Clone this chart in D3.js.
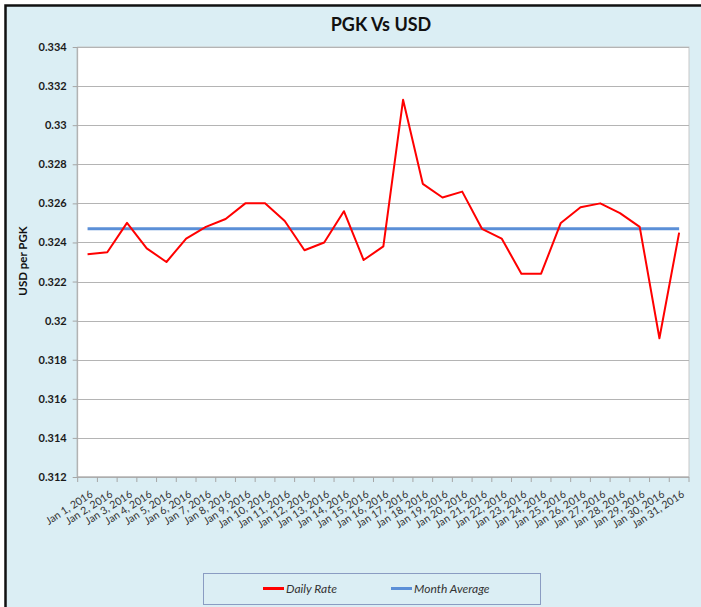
<!DOCTYPE html>
<html><head><meta charset="utf-8">
<script src="https://cdn.jsdelivr.net/npm/d3@7"></script>
<style>
html,body{margin:0;padding:0;background:#fff;}
svg{display:block;font-family:Lato,"Open Sans",sans-serif;}
</style></head>
<body>
<svg id="chart" width="701" height="607"></svg>
<script>
const dates = ["Jan 1, 2016","Jan 2, 2016","Jan 3, 2016","Jan 4, 2016","Jan 5, 2016","Jan 6, 2016","Jan 7, 2016","Jan 8, 2016","Jan 9, 2016","Jan 10, 2016","Jan 11, 2016","Jan 12, 2016","Jan 13, 2016","Jan 14, 2016","Jan 15, 2016","Jan 16, 2016","Jan 17, 2016","Jan 18, 2016","Jan 19, 2016","Jan 20, 2016","Jan 21, 2016","Jan 22, 2016","Jan 23, 2016","Jan 24, 2016","Jan 25, 2016","Jan 26, 2016","Jan 27, 2016","Jan 28, 2016","Jan 29, 2016","Jan 30, 2016","Jan 31, 2016"];
const dailyRate = [0.3234,0.3235,0.3250,0.3237,0.3230,0.3242,0.3248,0.3252,0.3260,0.3260,0.3251,0.3236,0.3240,0.3256,0.3231,0.3238,0.3313,0.3270,0.3263,0.3266,0.3247,0.3242,0.3224,0.3224,0.3250,0.3258,0.3260,0.3255,0.3248,0.3191,0.3245];
const monthAverage = [0.3247,0.3247,0.3247,0.3247,0.3247,0.3247,0.3247,0.3247,0.3247,0.3247,0.3247,0.3247,0.3247,0.3247,0.3247,0.3247,0.3247,0.3247,0.3247,0.3247,0.3247,0.3247,0.3247,0.3247,0.3247,0.3247,0.3247,0.3247,0.3247,0.3247,0.3247];
const yTicks = [0.312,0.314,0.316,0.318,0.32,0.322,0.324,0.326,0.328,0.33,0.332,0.334];
const yTickLabels = ["0.312","0.314","0.316","0.318","0.32","0.322","0.324","0.326","0.328","0.33","0.332","0.334"];
const seriesNames = ["Daily Rate","Month Average"];
const seriesColors = ["#ff0000","#5b8fd7"];
const title = "PGK Vs USD";
const yTitle = "USD per PGK";

const svg = d3.select("#chart");
const L = 77.7, R = 689, T = 47, B = 477;

// chart background + border
svg.append("rect").attr("x",5.5).attr("y",5.5).attr("width",720).attr("height",630)
  .attr("fill","#dbeef4").attr("stroke","#111").attr("stroke-width",2.5);

const x = d3.scaleBand().domain(dates).range([L,R]);
const y = d3.scaleLinear().domain([0.312,0.334]).range([B,T]);
const cx = d => x(d) + x.bandwidth()/2;

// plot area
svg.append("rect").attr("x",L).attr("y",T).attr("width",R-L).attr("height",B-T)
  .attr("fill","#fff").attr("stroke","#c8c8c8").attr("stroke-width",1);

// gridlines
svg.append("g").attr("transform",`translate(${L},0)`)
  .call(d3.axisLeft(y).tickValues(yTicks).tickSize(-(R-L)).tickFormat(""))
  .call(g=>g.select(".domain").remove())
  .call(g=>g.selectAll("line").attr("stroke","#b4b4b4").attr("stroke-width",1).attr("shape-rendering","crispEdges"));

// y axis
const ya = svg.append("g").attr("transform",`translate(${L},0)`)
  .call(d3.axisLeft(y).tickValues(yTicks).tickSize(5).tickPadding(6).tickFormat((d,i)=>yTickLabels[i]));
ya.select(".domain").attr("stroke","#a6a6a6").attr("d",`M-0.5,${T}V${B}`);
ya.selectAll("line").attr("stroke","#a6a6a6");
ya.selectAll("text").attr("font-family","Lato,sans-serif").attr("font-size",11).attr("font-weight","bold").attr("fill","#1a1a1a");

// x axis
const xa = svg.append("g");
xa.append("line").attr("x1",L).attr("x2",R).attr("y1",B).attr("y2",B).attr("stroke","#a6a6a6");
xa.selectAll("line.tk").data(dates.concat(["__end"])).join("line").attr("class","tk")
  .attr("x1",d=> d==="__end"? R : x(d)).attr("x2",d=> d==="__end"? R : x(d))
  .attr("y1",B).attr("y2",B+5).attr("stroke","#a6a6a6");
xa.selectAll("text").data(dates).join("text")
  .attr("transform",d=>`translate(${cx(d)+6},${B+19}) rotate(-33)`)
  .attr("text-anchor","end").attr("font-size",10.5).attr("fill","#333")
  .text(d=>d);

// lines
const line = d3.line().x((d,i)=>cx(dates[i])).y(d=>y(d));
svg.append("path").datum(monthAverage).attr("d",line).attr("fill","none")
  .attr("stroke",seriesColors[1]).attr("stroke-width",3);
svg.append("path").datum(dailyRate).attr("d",line).attr("fill","none")
  .attr("stroke",seriesColors[0]).attr("stroke-width",2).attr("stroke-linejoin","round");

// title
svg.append("text").attr("x",381).attr("y",31).attr("text-anchor","middle")
  .attr("font-size",18).attr("font-weight","bold").attr("fill","#111").text(title);

// y title
svg.append("text").attr("transform","translate(26.5,261) rotate(-90)").attr("text-anchor","middle")
  .attr("font-size",11.5).attr("font-weight","bold").attr("fill","#111").text(yTitle);

// legend
svg.append("rect").attr("x",203.5).attr("y",573.5).attr("width",337).attr("height",31)
  .attr("fill","#dbeef4").attr("stroke","#8a9cc2").attr("stroke-width",1);
const legX = [263,391];
seriesNames.forEach((n,i)=>{
  svg.append("line").attr("x1",legX[i]).attr("x2",legX[i]+21).attr("y1",588.5).attr("y2",588.5)
    .attr("stroke",seriesColors[i]).attr("stroke-width",3);
  svg.append("text").attr("x",legX[i]+23).attr("y",593).attr("font-size",12).attr("font-style","italic")
    .attr("fill","#333").text(n);
});
</script>
</body></html>
